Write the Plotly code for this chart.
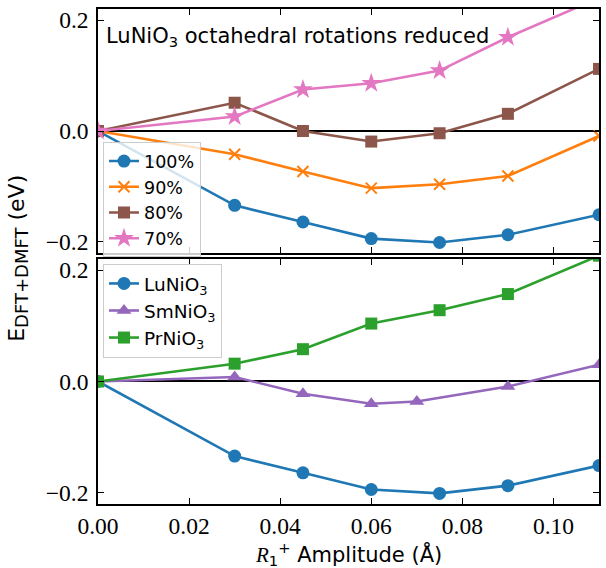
import plotly.graph_objects as go

# ---- data ----
amp = [0.0, 0.03, 0.045, 0.06, 0.075, 0.09, 0.11]
amp_sm = [0.0, 0.03, 0.045, 0.06, 0.07, 0.09, 0.11]

rot100 = [0.0, -0.134, -0.164, -0.194, -0.201, -0.187, -0.151]
rot90 = [0.0, -0.042, -0.073, -0.103, -0.096, -0.081, -0.009]
rot80 = [0.0, 0.051, 0.000, -0.019, -0.004, 0.031, 0.112]
rot70 = [0.0, 0.026, 0.075, 0.086, 0.109, 0.169, 0.240]

lu = [0.0, -0.134, -0.164, -0.194, -0.201, -0.187, -0.151]
sm = [0.0, 0.008, -0.022, -0.040, -0.036, -0.009, 0.030]
pr = [0.0, 0.032, 0.058, 0.104, 0.128, 0.157, 0.226]

top_names = ["100%", "90%", "80%", "70%"]
bottom_names = ["LuNiO<sub>3</sub>", "SmNiO<sub>3</sub>", "PrNiO<sub>3</sub>"]

x_ticks = [0.0, 0.02, 0.04, 0.06, 0.08, 0.10]
x_ticktext = ["0.00", "0.02", "0.04", "0.06", "0.08", "0.10"]
y_ticks = [-0.2, 0.0, 0.2]
y_ticktext = ["\u22120.2", "0.0", "0.2"]

BLUE, ORANGE, GREEN = "#1f77b4", "#ff7f0e", "#2ca02c"
PURPLE, BROWN, PINK = "#9467bd", "#8c564b", "#e377c2"

SANS = "DejaVu Sans"
SERIF = "Liberation Serif"

fig = go.Figure()

def add(x, y, name, color, symbol, size, xa, ya, leg, xline=False):
    marker = dict(symbol=symbol, size=size, color=color)
    if xline:
        marker["line"] = dict(width=2, color=color)
    fig.add_trace(go.Scatter(
        x=x, y=y, name=name, mode="lines+markers",
        line=dict(color=color, width=2.6), marker=marker,
        xaxis=xa, yaxis=ya, legend=leg))

add(amp, rot100, top_names[0], BLUE, "circle", 13, "x2", "y2", "legend")
add(amp, rot90, top_names[1], ORANGE, "x-thin", 11, "x2", "y2", "legend", xline=True)
add(amp, rot80, top_names[2], BROWN, "square", 12, "x2", "y2", "legend")
add(amp, rot70, top_names[3], PINK, "star", 15, "x2", "y2", "legend")

add(amp, lu, bottom_names[0], BLUE, "circle", 13, "x", "y", "legend2")
add(amp_sm, sm, bottom_names[1], PURPLE, "triangle-up", 13, "x", "y", "legend2")
add(amp, pr, bottom_names[2], GREEN, "square", 12, "x", "y", "legend2")

axis_common = dict(showline=True, linecolor="black", linewidth=1.6, mirror="allticks",
                   ticks="inside", ticklen=6, tickwidth=1.2, tickcolor="black",
                   showgrid=False, tickfont=dict(family=SERIF, size=23.5, color="black"))

fig.update_layout(
    width=606, height=568,
    margin=dict(l=98, r=5, t=9, b=64),
    paper_bgcolor="white", plot_bgcolor="white",
    xaxis=dict(domain=[0, 1], anchor="y", range=[0, 0.11], tickvals=x_ticks,
               ticktext=x_ticktext, zeroline=False, **axis_common),
    xaxis2=dict(domain=[0, 1], anchor="y2", matches="x", range=[0, 0.11], tickvals=x_ticks,
                showticklabels=False, zeroline=False, **axis_common),
    yaxis=dict(domain=[0, 0.495], anchor="x", range=[-0.22, 0.22], tickvals=y_ticks,
               ticktext=y_ticktext, zeroline=True, zerolinecolor="black", zerolinewidth=2,
               ticklabelstandoff=3, **axis_common),
    yaxis2=dict(domain=[0.507, 1], anchor="x2", range=[-0.22, 0.22], tickvals=y_ticks,
                ticktext=y_ticktext, zeroline=True, zerolinecolor="black", zerolinewidth=2,
                ticklabelstandoff=3, **axis_common),
    legend=dict(x=0.01, y=0.731, xanchor="left", yanchor="top",
                bgcolor="rgba(255,255,255,0.8)", bordercolor="#cccccc", borderwidth=1,
                font=dict(family=SANS, size=17.5, color="black"), itemwidth=30,
                tracegroupgap=0),
    legend2=dict(x=0.01, y=0.485, xanchor="left", yanchor="top",
                 bgcolor="rgba(255,255,255,0.8)", bordercolor="#cccccc", borderwidth=1,
                 font=dict(family=SANS, size=18.5, color="black"), itemwidth=30,
                 tracegroupgap=0),
    annotations=[
        dict(text="LuNiO<sub>3</sub> octahedral rotations reduced", xref="paper", yref="paper",
             x=0.012, y=0.944, xanchor="left", yanchor="middle", showarrow=False,
             font=dict(family=SANS, size=21, color="black")),
        dict(text="E<sub><span style=\"font-size:18px\">DFT+DMFT</span></sub> (eV)",
             xref="paper", yref="paper",
             x=-0.158, y=0.497, xanchor="center", yanchor="middle", showarrow=False,
             textangle=-90, font=dict(family=SANS, size=22, color="black")),
        dict(text="<span style=\"font-family:'Liberation Serif'\"><i>R</i></span>"
                  "<sub>1</sub><sup>+</sup> Amplitude (\u00c5)",
             xref="paper", yref="paper", x=0.5, y=-0.101, xanchor="center",
             yanchor="middle", showarrow=False,
             font=dict(family=SANS, size=21, color="black")),
    ],
)

fig.write_html("out.html", config={"displayModeBar": False},
               post_script="document.body.style.margin='0';document.body.style.padding='0';")
